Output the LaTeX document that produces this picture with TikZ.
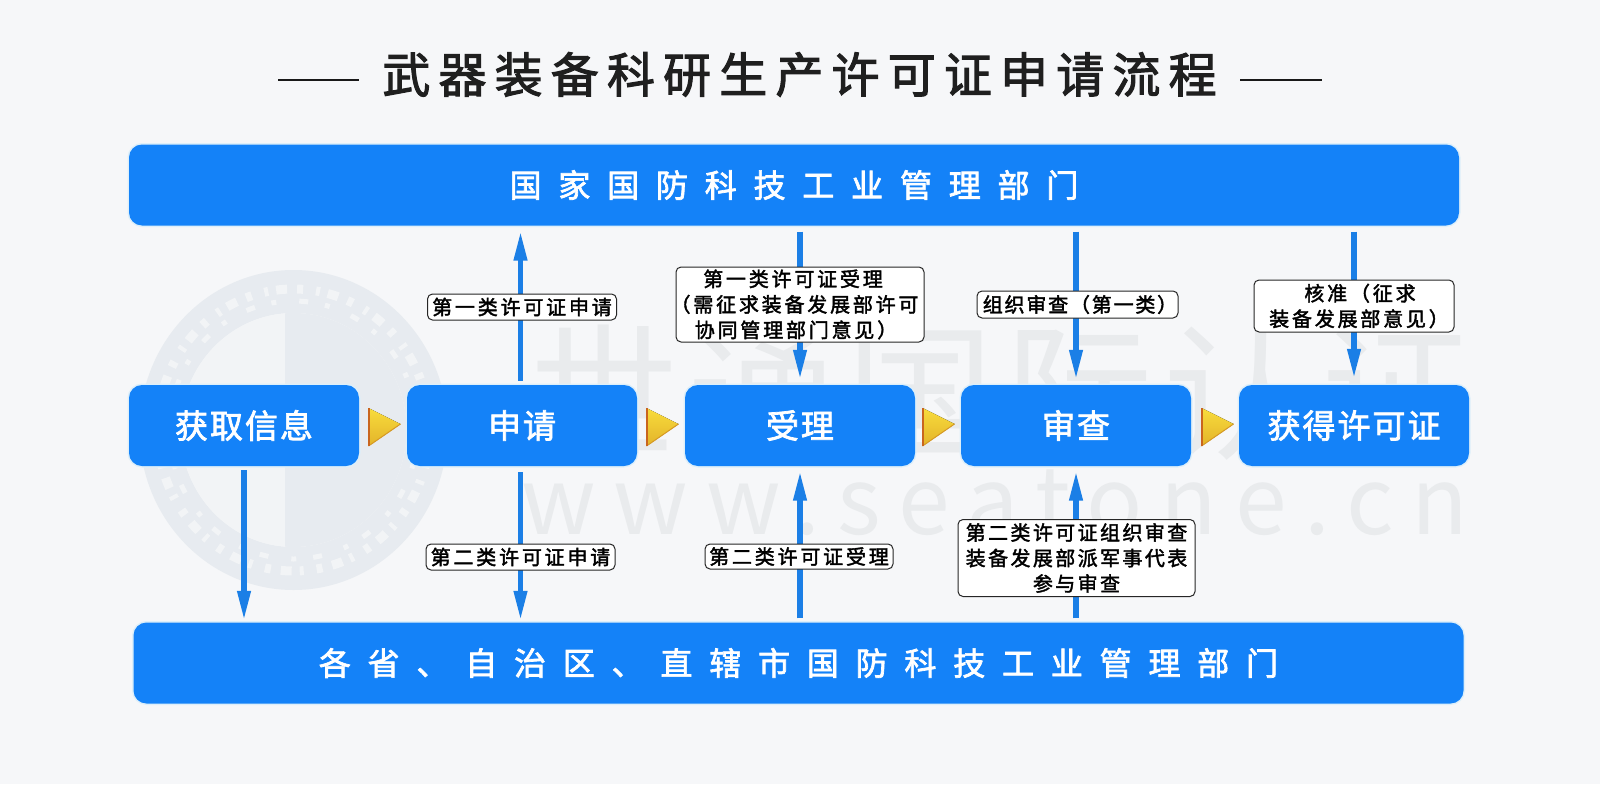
\documentclass[tikz,border=0pt]{standalone}
\usepackage{fontspec}
\usetikzlibrary{arrows.meta,calc,shapes.geometric}
\setmainfont{Noto Sans CJK SC}
\newfontfamily\medf[FakeBold=2.2]{Noto Sans CJK SC}
\newfontfamily\labf[FakeBold=2]{Noto Sans CJK SC}
\definecolor{bgc}{HTML}{F6F7F9}
\definecolor{boxc}{HTML}{1482F8}
\definecolor{haloc}{HTML}{DDEFFA}
\definecolor{linec}{HTML}{1B7FE6}
\definecolor{wmc}{HTML}{E9EBED}
\definecolor{sealc}{HTML}{E7EBF0}
\definecolor{seallt}{HTML}{F2F4F6}
\definecolor{F8DC3C}{HTML}{F8DC3C}
\definecolor{E3B32A}{HTML}{E3B32A}
\definecolor{edgec}{HTML}{C9651E}
\definecolor{edged}{HTML}{D89B24}
\tikzset{
  x=1pt,y=-1pt,
  bluebox/.style={rounded corners=13pt,fill=boxc,text=white,inner sep=0pt,
     preaction={draw=haloc,line width=3pt}},
  stepbox/.style={bluebox,minimum width=230pt,minimum height=81pt,
     font=\medf\fontsize{33}{33}\selectfont\addfontfeature{LetterSpace=6}},
  barbox/.style={bluebox,minimum width=1330pt,minimum height=81pt,
     font=\medf\fontsize{32}{32}\selectfont\addfontfeature{LetterSpace=52.5}},
  lab/.style={draw=black!85,line width=1pt,fill=white,rounded corners=5pt,inner sep=0pt,
     align=center,text=black,
     font=\labf\fontsize{20}{25.5}\selectfont\addfontfeature{LetterSpace=14}},
  flow/.style={draw=linec,line width=5.5pt,-{Triangle[length=30pt,width=12.5pt]}},
  yellowtip/.pic={
    \fill[top color=F8DC3C,bottom color=E3B32A] (0,-16) -- (32,0) -- (0,22) -- cycle;
    \draw[edged,line width=1pt] (32,0) -- (0,22);
    \draw[edgec,line width=2pt] (0,-16) -- (0,22);
  },
}
\begin{document}
\begin{tikzpicture}
\useasboundingbox (0,0) rectangle (1600,784);
\fill[bgc] (0,0) rectangle (1600,784);
% watermark
\fill[sealc,even odd rule] (293.5,430) ellipse (154pt and 160pt) (293.5,430) ellipse (113pt and 117pt);
\draw[seallt,line width=9pt,dash pattern=on 6pt off 10pt on 11pt off 8pt on 4pt off 13pt] (293.5,430) ellipse (136pt and 141pt);
\draw[seallt,line width=5pt,dash pattern=on 5pt off 17pt on 9pt off 23pt] (293.5,430) ellipse (124pt and 129pt);
\fill[seallt] (293.5,430) ellipse (113pt and 117pt);
\begin{scope}
\clip (285,250) rectangle (460,610);
\fill[sealc] (293.5,430) ellipse (113pt and 117pt);
\end{scope}
\node[text=wmc,font=\fontsize{148}{148}\selectfont\addfontfeature{LetterSpace=7}] (wmcn) at (1000,392) {世通国际认证};
\node[text=wmc,font=\fontsize{93}{93}\selectfont\addfontfeature{LetterSpace=19}] (wmen) at (995,503) {www.seatone.cn};
% title
\node[font=\medf\fontsize{48}{48}\selectfont\addfontfeature{LetterSpace=17},text=black!88] (title) at (799.5,74.5) {武器装备科研生产许可证申请流程};
\coordinate (tl1) at (278,80); \coordinate (tl2) at (359,80);
\coordinate (tr1) at (1240,80); \coordinate (tr2) at (1322,80);
\draw[black!90,line width=2pt] (tl1) -- (tl2);
\draw[black!90,line width=2pt] (tr1) -- (tr2);
% bars
\node[barbox] (top) at (794,185) {国家国防科技工业管理部门};
\node[barbox] (bot) at (798.5,663) {各省、自治区、直辖市国防科技工业管理部门};
% steps
\node[stepbox] (info) at (244,425.5) {获取信息};
\node[stepbox] (apply) at (522,425.5) {申请};
\node[stepbox] (accept) at (800,425.5) {受理};
\node[stepbox] (review) at (1076,425.5) {审查};
\node[stepbox] (get) at (1354,425.5) {获得许可证};
\coordinate (au) at ($(apply.north)+(-1.5,0)$);
\coordinate (ad) at ($(apply.south)+(-1.5,0)$);
% yellow arrows
\pic at (368.5,424) {yellowtip};
\pic at (646.5,424) {yellowtip};
\pic at (922.5,424) {yellowtip};
\pic at (1201.5,424) {yellowtip};
% connectors
\draw[flow,shorten <=4pt,shorten >=1.5pt] (info.south) -- (info.south |- bot.north);
\draw[flow,shorten <=4pt,shorten >=5pt] (au) -- (au |- top.south);
\draw[flow,shorten <=6pt,shorten >=1.5pt] (ad) -- (ad |- bot.north);
\draw[flow,shorten <=6pt,shorten >=5pt] (accept.north |- top.south) -- (accept.north);
\draw[flow,shorten <=4pt,shorten >=4.5pt] (accept.south |- bot.north) -- (accept.south);
\draw[flow,shorten <=6pt,shorten >=5pt] (review.north |- top.south) -- (review.north);
\draw[flow,shorten <=4pt,shorten >=4.5pt] (review.south |- bot.north) -- (review.south);
\draw[flow,shorten <=6pt,shorten >=6pt] (get.north |- top.south) -- (get.north);
% labels
\node[lab,minimum width=189pt,minimum height=26pt] (l1) at (522,307) {第一类许可证申请};
\node[lab,minimum width=248pt,minimum height=75pt] (l2) at (800,304.5) {第一类许可证受理\rule{14pt}{0pt}\\\leavevmode\kern-11pt（需征求装备发展部许可\\协同管理部门意见）\rule{8pt}{0pt}};
\node[lab,minimum width=201pt,minimum height=27pt,font=\labf\fontsize{20}{25.5}\selectfont\addfontfeature{LetterSpace=9}] (l3) at (1077.5,304.5) {\rule{5pt}{0pt}组织审查（第一类）};
\node[lab,minimum width=200pt,minimum height=52pt] (l4) at (1354,306) {\rule{12pt}{0pt}核准（征求\\\rule{10pt}{0pt}装备发展部意见）};
\node[lab,minimum width=189pt,minimum height=26pt] (l5) at (520.5,557) {第二类许可证申请};
\node[lab,minimum width=188pt,minimum height=25pt] (l6) at (799,556.5) {第二类许可证受理};
\node[lab,minimum width=237pt,minimum height=77pt,font=\labf\fontsize{20}{25.5}\selectfont\addfontfeature{LetterSpace=12}] (l7) at (1076.5,558) {第二类许可证组织审查\\装备发展部派军事代表\\参与审查};
\end{tikzpicture}
\end{document}
